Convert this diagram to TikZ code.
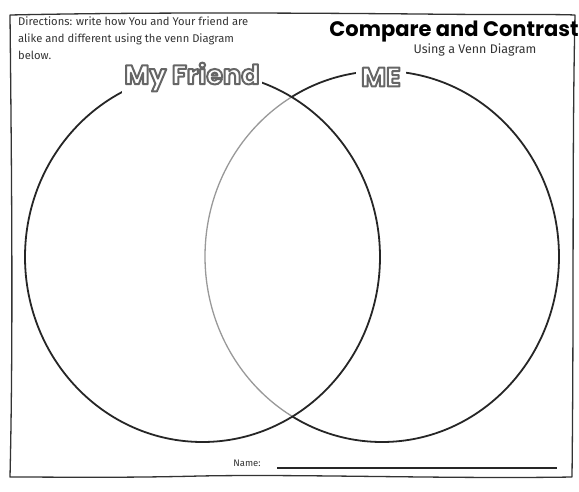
\documentclass[tikz,border=0pt]{standalone}
\usepackage{fontspec}
\setmainfont{Poppins}
\newfontfamily\dirfont{Fira Sans}
\newcommand{\outlinetext}[1]{\special{pdf:code q 2 Tr 2 w 1 j 0.4 0.4 0.4 RG 1 1 1 rg}#1\special{pdf:code Q}}
\begin{document}
\begin{tikzpicture}[x=1pt,y=-1pt,
  frameline/.style={draw=black!80,line width=1.3pt,line join=round},
  circ/.style={draw=black!85,line width=1.8pt},
  circlight/.style={draw=black!40,line width=1.3pt},
  outlabel/.style={font=\fontsize{27}{27}\selectfont\bfseries,inner sep=0pt}]
\useasboundingbox (0,0) rectangle (579,491);
\fill[white] (0,0) rectangle (579,491);
% frame
\draw[frameline] (10,15) .. controls (150,12) and (300,13) .. (420,14) .. controls (500,15) and (550,14) .. (575,15)
  .. controls (572,150) and (574,300) .. (572,477)
  .. controls (450,479) and (300,474) .. (200,476) .. controls (120,478) and (60,477) .. (10,477)
  .. controls (13,350) and (12,200) .. (10,15) -- cycle;
% circles (ellipses)
\coordinate (left) at (202.5,257);
\coordinate (right) at (382,256.5);
\begin{scope}
  \clip (left) ellipse [x radius=177.5, y radius=185];
  \draw[circlight] (right) ellipse [x radius=177, y radius=185.5];
\end{scope}
\begin{scope}[even odd rule]
  \clip (-10,-10) rectangle (600,510) (left) ellipse [x radius=177.5, y radius=185];
  \draw[circ] (right) ellipse [x radius=177, y radius=185.5];
\end{scope}
\draw[circ] (left) ellipse [x radius=177.5, y radius=185];
% labels with outline
\node[fill=white,minimum width=140pt,minimum height=34pt,inner sep=0pt] (fbg) at (192,77) {};
\node[fill=white,minimum width=50pt,minimum height=34pt,inner sep=0pt] (mbg) at (381,77) {};
\node[outlabel] (friend) at (192,77) {\outlinetext{My Friend}};
\node[outlabel] (me) at (381,77) {\outlinetext{ME}};
% title
\node[font=\fontsize{21}{21}\selectfont\bfseries,inner sep=0pt] (title) at (454,32) {Compare and Contrast};
\node[font=\dirfont\fontsize{12.5}{12.5}\selectfont,inner sep=0pt,text=black!80] (sub) at (475,50) {Using a Venn Diagram};
% directions
\node[font=\dirfont\fontsize{11.2}{17}\selectfont,text=black!80,align=left,anchor=north west,inner sep=0pt] (dir) at (18,17)
 {Directions: write how You and Your friend are\\alike and different using the venn Diagram\\below.};
% name
\node[font=\dirfont\fontsize{9.5}{9.5}\selectfont,text=black!80,inner sep=0pt] (name) at (247,463) {Name:};
\coordinate (n1) at (277,468);
\coordinate (n2) at (557,468);
\draw[line width=2.2pt,black!85] (n1) -- (n2);
\end{tikzpicture}
\end{document}
